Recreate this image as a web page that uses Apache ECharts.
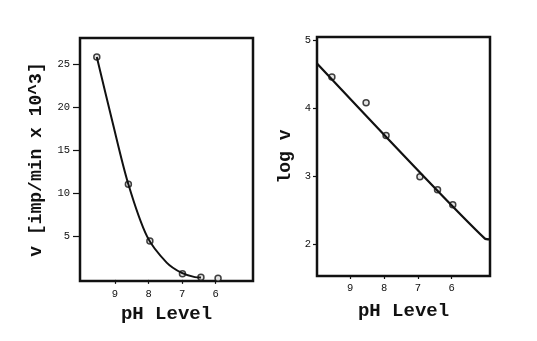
<!DOCTYPE html>
<html><head><meta charset="utf-8">
<script src="https://cdn.jsdelivr.net/npm/echarts@6/dist/echarts.min.js"></script>
<style>html,body{margin:0;padding:0;background:#fff}#c{width:537px;height:341px}</style>
</head><body><div id="c"></div>
<script>
// Left panel: v vs pH
const leftPoints = [[9.54,25.8],[8.60,11.07],[7.96,4.5],[6.99,0.7],[6.44,0.3],[5.93,0.2]];
const leftCurve = [[9.54,25.8],[9.08,18.4],[8.60,11.07],[8.04,5.0],[7.46,2.0],[7.01,0.8],[6.62,0.32],[6.44,0.28]];
const leftXTicks = [9,8,7,6];
const leftYTicks = [5,10,15,20,25];
// Right panel: log v vs pH
const rightPoints = [[9.54,4.46],[8.53,4.08],[7.94,3.60],[6.94,2.99],[6.42,2.80],[5.97,2.58]];
const rightLine = [[9.98,4.66],[5.02,2.08],[4.87,2.07]];
const rightXTicks = [9,8,7,6];
const rightYTicks = [2,3,4,5];

const F = "'Liberation Mono', 'DejaVu Sans Mono', monospace";
const ink = '#111';
const chart = echarts.init(document.getElementById('c'), null, {renderer:'canvas'});
const axisLbl = {fontFamily:F, fontSize:10.5, color:ink};
chart.setOption({
  backgroundColor:'#fff',
  animation:false,
  grid:[
    {left:80, top:38, width:173, height:243, show:true, borderColor:ink, borderWidth:2.5, backgroundColor:'transparent'},
    {left:317, top:37, width:173, height:239, show:true, borderColor:ink, borderWidth:2.5, backgroundColor:'transparent'}
  ],
  xAxis:[
    {gridIndex:0, type:'value', inverse:true, min:4.89, max:10.04, splitLine:{show:false}, axisLine:{show:false},
     axisTick:{show:true, length:4, customValues:leftXTicks, lineStyle:{color:ink, width:1.2}},
     axisLabel:{...axisLbl, margin:8, customValues:leftXTicks},
     name:'pH Level', nameLocation:'middle', nameGap:22, nameTextStyle:{fontFamily:F, fontSize:19, fontWeight:'bold', color:ink}},
    {gridIndex:1, type:'value', inverse:true, min:4.87, max:9.98, splitLine:{show:false}, axisLine:{show:false},
     axisTick:{show:true, length:3, customValues:rightXTicks, lineStyle:{color:ink, width:1.2}},
     axisLabel:{...axisLbl, margin:7, customValues:rightXTicks},
     name:'pH Level', nameLocation:'middle', nameGap:26, nameTextStyle:{fontFamily:F, fontSize:19, fontWeight:'bold', color:ink}}
  ],
  yAxis:[
    {gridIndex:0, type:'value', min:-0.13, max:28, splitLine:{show:false}, axisLine:{show:false},
     axisTick:{show:true, length:7, customValues:leftYTicks, lineStyle:{color:ink, width:1.2}},
     axisLabel:{...axisLbl, margin:10, customValues:leftYTicks},
     name:'v [imp/min x 10^3]', nameLocation:'middle', nameGap:35, nameTextStyle:{fontFamily:F, fontSize:18, fontWeight:'bold', color:ink}},
    {gridIndex:1, type:'value', min:1.53, max:5.05, splitLine:{show:false}, axisLine:{show:false},
     axisTick:{show:true, length:4, customValues:rightYTicks, lineStyle:{color:ink, width:1.2}},
     axisLabel:{...axisLbl, margin:6, customValues:rightYTicks},
     name:'log v', nameLocation:'middle', nameGap:23, nameTextStyle:{fontFamily:F, fontSize:18, fontWeight:'bold', color:ink}}
  ],
  series:[
    {type:'line', xAxisIndex:0, yAxisIndex:0, data:leftCurve, smooth:0.3, showSymbol:false, lineStyle:{color:ink, width:2}},
    {type:'scatter', xAxisIndex:0, yAxisIndex:0, data:leftPoints, symbol:'circle', symbolSize:6, itemStyle:{color:'#ddd', borderColor:ink, borderWidth:1.5}},
    {type:'line', xAxisIndex:1, yAxisIndex:1, data:rightLine, smooth:0.2, showSymbol:false, lineStyle:{color:ink, width:2.2}},
    {type:'scatter', xAxisIndex:1, yAxisIndex:1, data:rightPoints, symbol:'circle', symbolSize:6, itemStyle:{color:'#ddd', borderColor:ink, borderWidth:1.5}}
  ]
});
</script></body></html>
